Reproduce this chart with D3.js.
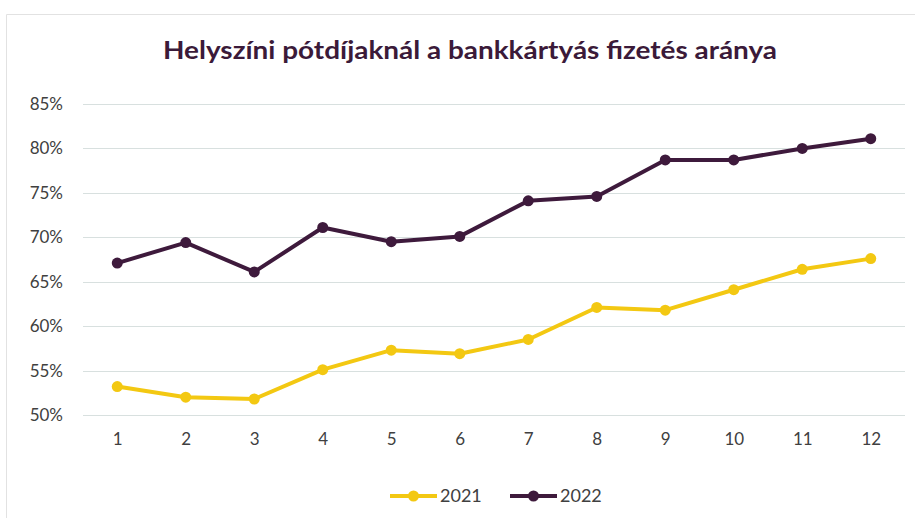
<!DOCTYPE html>
<html>
<head>
<meta charset="utf-8">
<script src="https://cdn.jsdelivr.net/npm/d3@7"></script>
<style>
  body { margin: 0; background: #fff; }
  svg { display: block; font-family: Lato, "Open Sans", sans-serif; }
</style>
</head>
<body>
<svg id="chart" width="915" height="518"></svg>
<script>
var months = ['1', '2', '3', '4', '5', '6', '7', '8', '9', '10', '11', '12'];
var values2021 = [53.2, 52.0, 51.8, 55.1, 57.3, 56.9, 58.5, 62.1, 61.8, 64.1, 66.4, 67.6];
var values2022 = [67.1, 69.4, 66.1, 71.1, 69.5, 70.1, 74.1, 74.6, 78.7, 78.7, 80.0, 81.1];
var yTicks = [50, 55, 60, 65, 70, 75, 80, 85];
var seriesNames = ['2021', '2022'];
var titleText = 'Helyszíni pótdíjaknál a bankkártyás fizetés aránya';

var colors = { '2021': '#f3c812', '2022': '#3e1a3c' };
var series = [
  { name: seriesNames[0], values: values2021 },
  { name: seriesNames[1], values: values2022 }
];

var svg = d3.select('#chart');
var plot = { left: 83, right: 905, top: 104, bottom: 415 };

// faint outer frame of the chart area
svg.append('path')
  .attr('d', 'M6.5,518 V14.5 H915')
  .attr('fill', 'none')
  .attr('stroke', '#e2e2e2')
  .attr('stroke-width', 1);

svg.append('text')
  .attr('x', 470)
  .attr('y', 59)
  .attr('text-anchor', 'middle')
  .attr('fill', '#3b1a39')
  .style('font-size', '24px')
  .style('font-weight', 'bold')
  .attr('textLength', 614)
  .attr('lengthAdjust', 'spacingAndGlyphs')
  .text(titleText);

var x = d3.scalePoint()
  .domain(months)
  .range([plot.left, plot.right])
  .padding(0.5);

var y = d3.scaleLinear()
  .domain([50, 85])
  .range([plot.bottom, plot.top]);

// gridlines
svg.append('g')
  .selectAll('line')
  .data(yTicks)
  .enter().append('line')
  .attr('x1', plot.left)
  .attr('x2', plot.right)
  .attr('y1', function (d) { return Math.round(y(d)) + 0.5; })
  .attr('y2', function (d) { return Math.round(y(d)) + 0.5; })
  .attr('stroke', '#d8e0df')
  .attr('stroke-width', 1);

var yAxis = d3.axisLeft(y)
  .tickValues(yTicks)
  .tickFormat(function (d) { return d + '%'; })
  .tickSize(0)
  .tickPadding(0);
svg.append('g')
  .attr('transform', 'translate(63,0)')
  .call(yAxis)
  .call(function (g) { g.select('.domain').remove(); })
  .selectAll('text')
  .attr('fill', '#404040')
  .style('font-size', '17px')
  .style('font-family', 'Lato, "Open Sans", sans-serif');

var xAxis = d3.axisBottom(x).tickSize(0).tickPadding(0);
svg.append('g')
  .attr('transform', 'translate(0,433)')
  .call(xAxis)
  .call(function (g) { g.select('.domain').remove(); })
  .selectAll('text')
  .attr('fill', '#404040')
  .style('font-size', '17px')
  .style('font-family', 'Lato, "Open Sans", sans-serif');

var line = d3.line()
  .x(function (d, i) { return x(months[i]); })
  .y(function (d) { return y(d); });

series.forEach(function (s) {
  var g = svg.append('g');
  g.append('path')
    .attr('d', line(s.values))
    .attr('fill', 'none')
    .attr('stroke', colors[s.name])
    .attr('stroke-width', 4)
    .attr('stroke-linejoin', 'round');
  g.selectAll('circle')
    .data(s.values)
    .enter().append('circle')
    .attr('cx', function (d, i) { return x(months[i]); })
    .attr('cy', function (d) { return y(d); })
    .attr('r', 5.5)
    .attr('fill', colors[s.name]);
});

// legend
var legendX = d3.scaleOrdinal().domain(seriesNames).range([390, 510]);
var legend = svg.append('g')
  .selectAll('g')
  .data(seriesNames)
  .enter().append('g')
  .attr('transform', function (d) { return 'translate(' + legendX(d) + ',496)'; });
legend.append('line')
  .attr('x1', 0).attr('x2', 47)
  .attr('stroke', function (d) { return colors[d]; })
  .attr('stroke-width', 4);
legend.append('circle')
  .attr('cx', 23.5)
  .attr('r', 5.5)
  .attr('fill', function (d) { return colors[d]; });
legend.append('text')
  .attr('x', 50)
  .attr('dy', '0.35em')
  .attr('fill', '#404040')
  .style('font-size', '18px')
  .text(function (d) { return d; });
</script>
</body>
</html>
